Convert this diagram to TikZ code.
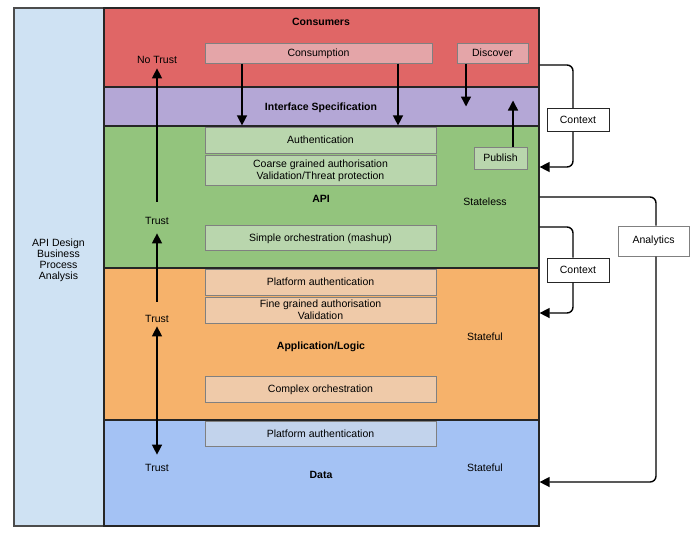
\documentclass[tikz,border=0pt]{standalone}
\usepackage{fontspec}
\setmainfont{Liberation Sans}
\usetikzlibrary{arrows.meta}
\definecolor{bpa}{HTML}{CFE2F3}
\definecolor{consred}{HTML}{E06666}
\definecolor{ifpurple}{HTML}{B4A7D6}
\definecolor{apigreen}{HTML}{93C47D}
\definecolor{apporange}{HTML}{F6B26B}
\definecolor{datablue}{HTML}{A4C2F4}
\definecolor{consin}{HTML}{E4A5A8}
\definecolor{apiin}{HTML}{B9D6AD}
\definecolor{appin}{HTML}{EFCAA9}
\definecolor{datain}{HTML}{C2D3EC}
\tikzset{ly/.append style={draw=black!85, line width=1.2pt, minimum width=435pt, inner sep=0pt}}
\tikzset{ib/.append style={draw=black!50, line width=1pt, minimum width=231pt, inner sep=0pt, align=center, text depth=0.5pt}}
\tikzset{tl/.append style={font=\bfseries, inner sep=2pt}}
\tikzset{lb/.append style={inner sep=2pt}}
\tikzset{cb/.append style={draw=black!85, fill=white, line width=1pt, minimum width=62pt, inner sep=0pt}}
\tikzset{ar/.append style={line width=1.4pt, -{Triangle[width=10pt,length=10pt]}}}
\tikzset{cn/.append style={ar, rounded corners=6pt}}

\begin{document}
\fontsize{10.5}{11.5}\selectfont
\begin{tikzpicture}[x=1pt,y=-1pt]
                \useasboundingbox (0,0) rectangle (700,539);
                % left column
                \node[ly, fill=bpa, draw=black!70, minimum width=90pt, minimum height=518pt] (bpa) at (59,267) {};
                \node[lb, align=center, font=\fontsize{10.5}{11}\selectfont] (bpaT) at (58.5,260) {API Design\\Business\\Process\\Analysis};
                % layers
                \node[ly, fill=consred, minimum height=79pt] (cons) at (321.5,47.5) {};
                \node[ly, fill=ifpurple, minimum height=39pt] (iface) at (321.5,106.5) {};
                \node[ly, fill=apigreen, minimum height=142pt] (api) at (321.5,197) {};
                \node[ly, fill=apporange, minimum height=152pt] (app) at (321.5,344) {};
                \node[ly, fill=datablue, minimum height=106pt] (data) at (321.5,473) {};
                % inner boxes
                \node[ib, fill=consin, minimum width=227pt, minimum height=20pt] (consump) at (318.5,53) {Consumption};
                \node[ib, fill=consin, minimum width=71pt, minimum height=20pt] (disc) at (492.5,53) {Discover};
                \node[ib, fill=apiin, minimum height=26pt] (auth) at (320.5,140) {Authentication};
                \node[ib, fill=apiin, minimum height=30pt] (coarse) at (320.5,170) {Coarse grained authorisation\\Validation/Threat protection};
                \node[ib, fill=apiin, minimum width=53pt, minimum height=22pt] (pub) at (500.5,158) {Publish};
                \node[ib, fill=apiin, minimum height=25pt] (simple) at (320.5,237.5) {Simple orchestration (mashup)};
                \node[ib, fill=appin, minimum height=26pt] (pauthA) at (320.5,282) {Platform authentication};
                \node[ib, fill=appin, minimum height=26pt] (fine) at (320.5,310) {Fine grained authorisation\\Validation};
                \node[ib, fill=appin, minimum height=26pt] (complex) at (320.5,389) {Complex orchestration};
                \node[ib, fill=datain, minimum height=25pt] (pauthB) at (320.5,433.5) {Platform authentication};
                % titles and labels
                \node[tl] (consT) at (321,21.5) {Consumers};
                \node[tl] (ifaceT) at (321,107.5) {Interface Specification};
                \node[tl] (apiT) at (321,198.5) {API};
                \node[tl] (appT) at (321,346.5) {Application/Logic};
                \node[tl] (dataT) at (321,474.5) {Data};
                \node[lb] (notrust) at (157,59.5) {No Trust};
                \node[lb] (trustA) at (157,220.5) {Trust};
                \node[lb] (trustB) at (157,318.5) {Trust};
                \node[lb] (trustC) at (157,467.5) {Trust};
                \node[lb] (sless) at (485,201.5) {Stateless};
                \node[lb] (sfulA) at (485,336.5) {Stateful};
                \node[lb] (sfulB) at (485,467.5) {Stateful};
                % side boxes
                \node[cb, minimum height=23pt] (ctxA) at (578,120) {Context};
                \node[cb, minimum height=24pt] (ctxB) at (578,270) {Context};
                \node[cb, draw=black!50, minimum width=71pt, minimum height=30pt] (anl) at (653.5,241) {Analytics};
                % trust arrows
                \draw[ar, shorten <=13pt, shorten >=3pt] (trustA) -- (notrust);
                \draw[ar, shorten <=11pt, shorten >=7pt] (trustB) -- (trustA);
                \draw[ar, {Triangle[width=10pt,length=10pt]}-{Triangle[width=10pt,length=10pt]}, shorten <=2pt, shorten >=7pt] (trustB) -- (trustC);
                % consumption, discover, publish
                \draw[ar] ([xshift=-76.5pt]consump.south) -- ([xshift=-76.5pt]consump.south |- api.north);
                \draw[ar] ([xshift=79.5pt]consump.south) -- ([xshift=79.5pt]consump.south |- api.north);
                \draw[ar] ([xshift=-26.5pt]disc.south) -- ([xshift=-26.5pt]disc.south |- iface.center);
                \draw[ar] ([xshift=12.5pt]pub.north) -- ++(0,-46);
                % context and analytics
                \draw[line width=1.4pt, rounded corners=6pt] ([yshift=-17.5pt]cons.east) -| ([xshift=-5pt]ctxA.north);
                \draw[cn] ([xshift=-5pt]ctxA.south) |- ([yshift=30pt]api.east);
                \draw[line width=1.4pt, rounded corners=6pt] (api.east) -| ([xshift=2.5pt]anl.north);
                \draw[cn] ([xshift=2.5pt]anl.south) |- ([yshift=-9pt]data.east);
                \draw[line width=1.4pt, rounded corners=6pt] ([yshift=-30pt]api.east) -| ([xshift=-5pt]ctxB.north);
                \draw[cn] ([xshift=-5pt]ctxB.south) |- ([yshift=31pt]app.east);
            \end{tikzpicture}
\end{document}
